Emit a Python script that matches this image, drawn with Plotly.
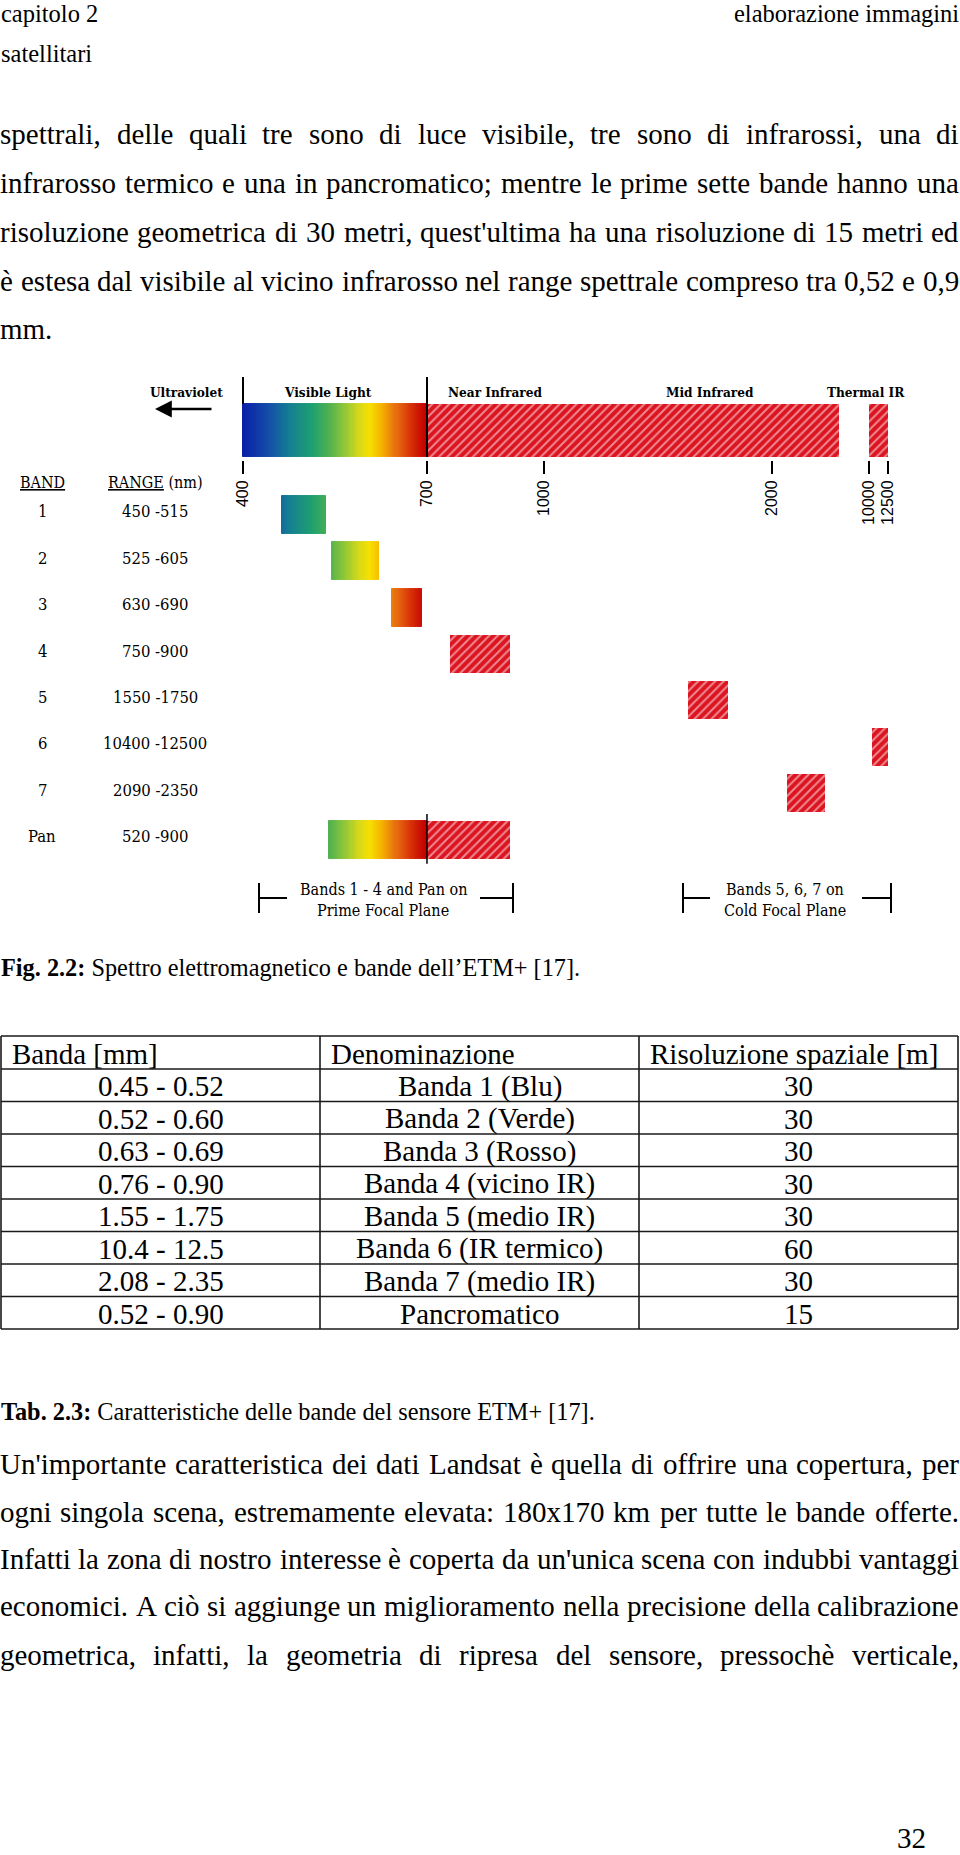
import numpy as np
import plotly.graph_objects as go

# ------------------------------------------------------------------ data
band_labels = ["1", "2", "3", "4", "5", "6", "7", "Pan"]
band_low_nm = [450, 525, 630, 750, 1550, 10400, 2090, 520]
band_high_nm = [515, 605, 690, 900, 1750, 12500, 2350, 900]

region_labels = ["Ultraviolet", "Visible Light", "Near Infrared", "Mid Infrared", "Thermal IR"]
visible_range_nm = [400, 700]
reflective_ir_range_nm = [700, 2450]
thermal_range_nm = [10000, 12500]
main_ticks_nm = [400, 700, 1000, 2000]
thermal_ticks_nm = [10000, 12500]

focal_plane_text = [["Bands 1 - 4 and Pan on", "Prime Focal Plane"],
                    ["Bands 5, 6, 7 on", "Cold Focal Plane"]]

table_header = ["Banda [mm]", "Denominazione", "Risoluzione spaziale [m]"]
table_range_um = ["0.45 - 0.52", "0.52 - 0.60", "0.63 - 0.69", "0.76 - 0.90",
                  "1.55 - 1.75", "10.4 - 12.5", "2.08 - 2.35", "0.52 - 0.90"]
table_name = ["Banda 1 (Blu)", "Banda 2 (Verde)", "Banda 3 (Rosso)", "Banda 4 (vicino IR)",
              "Banda 5 (medio IR)", "Banda 6 (IR termico)", "Banda 7 (medio IR)", "Pancromatico"]
table_resolution_m = [30, 30, 30, 30, 30, 60, 30, 15]

header_left = ["capitolo 2", "satellitari"]
header_right = "elaborazione immagini"
paragraph1 = [
    "spettrali, delle quali tre sono di luce visibile, tre sono di infrarossi, una di",
    "infrarosso termico e una in pancromatico; mentre le prime sette bande hanno una",
    "risoluzione geometrica di 30 metri, quest'ultima ha una risoluzione di 15 metri ed",
    "è estesa dal visibile al vicino infrarosso nel range spettrale compreso tra 0,52 e 0,9",
    "mm.",
]
paragraph2 = [
    "Un'importante caratteristica dei dati Landsat è quella di offrire una copertura, per",
    "ogni singola scena, estremamente elevata: 180x170 km per tutte le bande offerte.",
    "Infatti la zona di nostro interesse è coperta da un'unica scena con indubbi vantaggi",
    "economici. A ciò si aggiunge un miglioramento nella precisione della calibrazione",
    "geometrica, infatti, la geometria di ripresa del sensore, pressochè verticale,",
]
fig_caption = ["Fig. 2.2:", "Spettro elettromagnetico e bande dell’ETM+ [17]."]
tab_caption = ["Tab. 2.3:", "Caratteristiche delle bande del sensore ETM+ [17]."]
page_number = "32"

# ------------------------------------------------------------------ layout constants
W, H = 960, 1855
SERIF = "Liberation Serif, Times New Roman, serif"
DIAG = "DejaVu Serif Condensed, DejaVu Serif, serif"
SANS = "Liberation Sans, Arial, sans-serif"
HATCH_RED = "#db1420"

ROW0_PX, ROW_STEP_PX = 515.0, 46.36  # pixel of row 1 centre, row spacing


def px_row(p):
    return 1 + (p - ROW0_PX) / ROW_STEP_PX


SPEC_ROW = px_row(430.5)
SPEC_H = 53 / ROW_STEP_PX
BAND_H = 38 / ROW_STEP_PX

grad_stops = [(400, "#0a1ea8"), (435, "#1450a8"), (462, "#147f92"), (495, "#1fa070"),
              (520, "#4cb050"), (545, "#8cc63a"), (570, "#d4d81a"), (590, "#f8e000"),
              (612, "#f5b000"), (638, "#e87010"), (668, "#d83008"), (700, "#c20000")]


def hex2rgb(h):
    return [int(h[i:i + 2], 16) for i in (1, 3, 5)]


g_nm = np.array([s[0] for s in grad_stops], float)
g_rgb = np.array([hex2rgb(s[1]) for s in grad_stops], float)


def wl_color(nm):
    c = [np.interp(nm, g_nm, g_rgb[:, k]) for k in range(3)]
    return "rgb(%d,%d,%d)" % tuple(int(round(v)) for v in c)


def pxx(x):
    return x / W


def pxy(y):
    return 1 - y / H


fig = go.Figure()

# ------------------------------------------------------------------ bars
g_y, g_base, g_len, g_col, g_w = [], [], [], [], []
h_y, h_base, h_len, h_w = [], [], [], []
t_y, t_base, t_len, t_w = [], [], [], []


def add_gradient(row, lo, hi, hgt):
    n = max(int(np.ceil((hi - lo) / 2.0)), 1)
    edges = np.linspace(lo, hi, n + 1)
    for a, b in zip(edges[:-1], edges[1:]):
        g_y.append(row)
        g_base.append(a)
        g_len.append(b - a)
        g_col.append(wl_color(0.5 * (a + b)))
        g_w.append(hgt)


def add_hatch(row, lo, hi, hgt):
    if lo >= thermal_range_nm[0]:
        t_y.append(row); t_base.append(lo); t_len.append(hi - lo); t_w.append(hgt)
    else:
        h_y.append(row); h_base.append(lo); h_len.append(hi - lo); h_w.append(hgt)


vis_max = visible_range_nm[1]
add_gradient(SPEC_ROW, visible_range_nm[0], visible_range_nm[1], SPEC_H)
add_hatch(SPEC_ROW, reflective_ir_range_nm[0], reflective_ir_range_nm[1], SPEC_H)
add_hatch(SPEC_ROW, thermal_range_nm[0], thermal_range_nm[1], SPEC_H)
for i, (lo, hi) in enumerate(zip(band_low_nm, band_high_nm)):
    row = i + 1
    if lo < vis_max:
        add_gradient(row, lo, min(hi, vis_max), BAND_H)
    if hi > vis_max:
        add_hatch(row, max(lo, vis_max), hi, BAND_H)

fig.add_trace(go.Bar(orientation="h", y=g_y, base=g_base, x=g_len, width=g_w,
                     marker=dict(color=g_col, line=dict(color=g_col, width=1)),
                     xaxis="x", yaxis="y", showlegend=False, hoverinfo="skip"))

pattern = dict(shape="/", fgcolor="white", size=6, solidity=0.33, fillmode="overlay")
fig.add_trace(go.Bar(orientation="h", y=h_y, base=h_base, x=h_len, width=h_w,
                     marker=dict(color=HATCH_RED, line=dict(width=0), pattern=pattern),
                     xaxis="x", yaxis="y", showlegend=False, hoverinfo="skip"))
fig.add_trace(go.Bar(orientation="h", y=t_y, base=t_base, x=t_len, width=t_w,
                     marker=dict(color=HATCH_RED, line=dict(width=0), pattern=pattern),
                     xaxis="x2", yaxis="y", showlegend=False, hoverinfo="skip"))

# black boundary lines at 400 / 700 nm
top_row = px_row(377)
line_style = dict(color="black", width=2)
fig.add_trace(go.Scatter(x=[visible_range_nm[0]] * 2, y=[top_row, SPEC_ROW - SPEC_H / 2],
                         mode="lines", line=line_style, xaxis="x", yaxis="y",
                         showlegend=False, hoverinfo="skip"))
fig.add_trace(go.Scatter(x=[vis_max] * 2, y=[top_row, SPEC_ROW + SPEC_H / 2],
                         mode="lines", line=line_style, xaxis="x", yaxis="y",
                         showlegend=False, hoverinfo="skip"))
for i, (lo, hi) in enumerate(zip(band_low_nm, band_high_nm)):
    if lo < vis_max < hi:
        fig.add_trace(go.Scatter(x=[vis_max] * 2, y=[i + 1 - 0.55, i + 1 + 0.52],
                                 mode="lines", line=dict(color="black", width=1.5),
                                 xaxis="x", yaxis="y", showlegend=False, hoverinfo="skip"))

# ------------------------------------------------------------------ axes
L0, PXD = 243.0, 757.0  # pixel of 400 nm, pixels per decade
x_lo_px, x_hi_px = 200.0, 850.0
lg400 = np.log10(visible_range_nm[0])
x_range = [lg400 + (x_lo_px - L0) / PXD, lg400 + (x_hi_px - L0) / PXD]
t0_px, t1_px = 869.0, 887.5
tpp = (t1_px - t0_px) / (thermal_range_nm[1] - thermal_range_nm[0])
x2_lo_px, x2_hi_px = 858.0, 898.0
x2_range = [thermal_range_nm[0] + (x2_lo_px - t0_px) / tpp,
            thermal_range_nm[1] + (x2_hi_px - t1_px) / tpp]
axis_pos = pxy(460)
tick_common = dict(ticks="outside", ticklen=13, tickwidth=2, tickcolor="black",
                   tickangle=-90, tickfont=dict(family=SANS, size=16, color="black"),
                   showline=False, showgrid=False, zeroline=False, anchor="free",
                   position=axis_pos, side="bottom", tickmode="array", fixedrange=True)

fig.update_layout(
    width=W, height=H, margin=dict(l=0, r=0, t=0, b=0, pad=0),
    paper_bgcolor="white", plot_bgcolor="rgba(0,0,0,0)",
    barmode="overlay", bargap=0, showlegend=False,
    xaxis=dict(type="log", domain=[pxx(x_lo_px), pxx(x_hi_px)], range=x_range,
               tickvals=main_ticks_nm, ticktext=[str(v) for v in main_ticks_nm], **tick_common),
    xaxis2=dict(type="linear", domain=[pxx(x2_lo_px), pxx(x2_hi_px)], range=x2_range,
                tickvals=thermal_ticks_nm, ticktext=[str(v) for v in thermal_ticks_nm],
                **tick_common),
    yaxis=dict(domain=[0, 1], range=[px_row(H), px_row(0)], visible=False, fixedrange=True),
)

ann = []


def text(x, y, s, size, family=SERIF, xanchor="center", yanchor="middle", **kw):
    ann.append(dict(x=pxx(x), y=pxy(y), xref="paper", yref="paper", text=s,
                    showarrow=False, xanchor=xanchor, yanchor=yanchor,
                    font=dict(family=family, size=size, color="black"), **kw))


# diagram labels
for lbl, cx in zip(region_labels, [186, 328, 495, 710, 866]):
    text(cx, 392, "<b>%s</b>" % lbl, 13.5, DIAG)
ann.append(dict(x=pxx(155), y=pxy(409), xref="paper", yref="paper", text="",
                showarrow=True, ax=58, ay=0, arrowhead=2, arrowsize=1.4,
                arrowwidth=2.4, arrowcolor="black"))
text(42, 483, "<u>BAND</u>", 16, DIAG)
text(155, 483, "<u>RANGE</u> (nm)", 16, DIAG)
for i, (lbl, lo, hi) in enumerate(zip(band_labels, band_low_nm, band_high_nm)):
    yy = ROW0_PX + i * ROW_STEP_PX - 3
    text(42, yy, lbl, 16.5, DIAG)
    text(155, yy, "%d -%d" % (lo, hi), 16.5, DIAG)

# focal plane brackets
shapes = []


def seg(x0, y0, x1, y1, w=2, color="black"):
    shapes.append(dict(type="line", xref="paper", yref="paper", x0=pxx(x0), y0=pxy(y0),
                       x1=pxx(x1), y1=pxy(y1), line=dict(color=color, width=w)))


for (xa, xb, ia, ib), lines, cx in zip([(259, 513, 287, 480), (683, 891, 710, 862)],
                                       focal_plane_text, [383, 785]):
    seg(xa, 883, xa, 913)
    seg(xb, 883, xb, 913)
    seg(xa, 898, ia, 898)
    seg(ib, 898, xb, 898)
    text(cx, 889, lines[0], 16, DIAG)
    text(cx, 910, lines[1], 16, DIAG)

# ------------------------------------------------------------------ page text
TW = {' ': 250, '!': 333, '"': 408, "'": 180, '’': 333, '(': 333, ')': 333, '+': 564,
      ',': 250, '-': 333, '.': 250, '/': 278, ':': 278, ';': 278, '[': 333, ']': 333,
      'A': 722, 'B': 667, 'C': 667, 'D': 722, 'E': 611, 'F': 556, 'G': 722, 'H': 722,
      'I': 333, 'J': 389, 'K': 722, 'L': 611, 'M': 889, 'N': 722, 'O': 722, 'P': 556,
      'Q': 722, 'R': 667, 'S': 556, 'T': 611, 'U': 722, 'V': 722, 'W': 944, 'X': 722,
      'Y': 722, 'Z': 611, 'a': 444, 'b': 500, 'c': 444, 'd': 500, 'e': 444, 'f': 333,
      'g': 500, 'h': 500, 'i': 278, 'j': 278, 'k': 500, 'l': 278, 'm': 778, 'n': 500,
      'o': 500, 'p': 500, 'q': 500, 'r': 333, 's': 389, 't': 278, 'u': 500, 'v': 500,
      'w': 722, 'x': 500, 'y': 500, 'z': 444, 'è': 444, 'é': 444, 'ò': 500, 'à': 444,
      'ù': 500, 'ì': 278}
for d in "0123456789":
    TW[d] = 500


def units(s):
    return sum(TW.get(c, 500) for c in s)


BODY = 29


def line_text(s, y, size=BODY, justify=True, left=0.0, right=959.0):
    words = s.split(" ")
    widths = [units(w) * size / 1000.0 for w in words]
    if justify and len(words) > 1:
        gap = (right - left - sum(widths)) / (len(words) - 1)
    else:
        gap = TW[" "] * size / 1000.0
    x = left
    for w, wd in zip(words, widths):
        text(x + wd / 2, y, w, size)
        x += wd + gap


text(-1, 14, header_left[0], 24.5, xanchor="left")
text(-1, 53, header_left[1], 24.5, xanchor="left")
text(961, 14, header_right, 24.5, xanchor="right")

for k, (s, y) in enumerate(zip(paragraph1, [134, 183, 232, 281, 329])):
    line_text(s, y, justify=(k < len(paragraph1) - 1))
for s, y in zip(paragraph2, [1464, 1512, 1559, 1606, 1655]):
    line_text(s, y, justify=True)

text(-1, 968, "<b>%s</b> %s" % tuple(fig_caption), 24.3, xanchor="left")
text(-1, 1411, "<b>%s</b> %s" % tuple(tab_caption), 24.3, xanchor="left")
text(911, 1838, page_number, BODY)

# ------------------------------------------------------------------ table
TB_TOP, TB_HEAD, TB_ROW = 1036.0, 33.0, 32.5
col_x = [1, 320, 639, 958]
n_rows = len(table_range_um)
hlines = [TB_TOP, TB_TOP + TB_HEAD] + [TB_TOP + TB_HEAD + TB_ROW * (i + 1) for i in range(n_rows)]
tb_bot = hlines[-1]
for yy in hlines:
    seg(col_x[0], yy, col_x[-1], yy, w=1.6, color="#1a1a1a")
for xx in col_x:
    seg(xx, TB_TOP, xx, tb_bot, w=1.6, color="#1a1a1a")

for j, h in enumerate(table_header):
    text(col_x[j] + 9, TB_TOP + TB_HEAD / 2 + 1, h, BODY, xanchor="left")
centers = [(col_x[j] + col_x[j + 1]) / 2 for j in range(3)]
for i in range(n_rows):
    yy = TB_TOP + TB_HEAD + TB_ROW * (i + 0.5) + 1
    text(centers[0], yy, table_range_um[i], BODY)
    text(centers[1], yy, table_name[i], BODY)
    text(centers[2], yy, str(table_resolution_m[i]), BODY)

fig.update_layout(annotations=ann, shapes=shapes)
fig.write_html(
    "out.html",
    config={"displayModeBar": False},
    post_script="document.body.style.margin='0';document.body.style.overflow='hidden';",
)
